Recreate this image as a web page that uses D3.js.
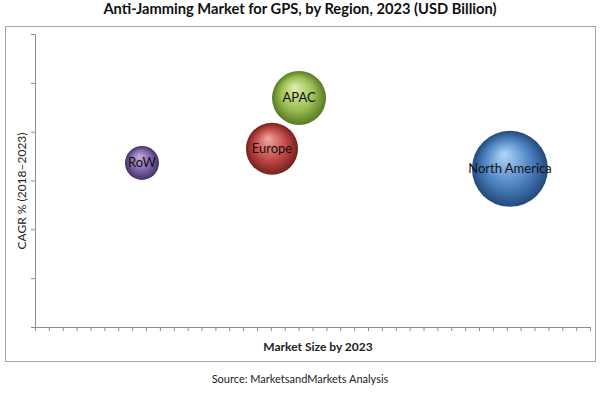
<!DOCTYPE html>
<html>
<head>
<meta charset="utf-8">
<script src="https://cdn.jsdelivr.net/npm/d3@7"></script>
<style>
  body { margin: 0; background: #fff; }
  svg { display: block; }
</style>
</head>
<body>
<script>
// data (arbitrary units, the original has no tick labels)
let regions = ["RoW", "Europe", "APAC", "North America"];
let marketSize = [7.71, 17.08, 19.03, 34.23];
let cagr = [3.36, 3.65, 4.69, 3.24];
let bubbleSize = [0.2, 0.47, 0.505, 1.0];
let baseColors = ["#8066a8", "#c24a46", "#9cbf55", "#4f85c4"];
let lightColors = ["#c2b0de", "#f0a8a4", "#e0f0b0", "#b3d6f8"];
let darkColors = ["#45306a", "#761f1d", "#587a22", "#22497a"];

let w = 600;
let h = 394;
let svg = d3.select("body").append("svg").attr("width", w).attr("height", h);

let x = d3.scaleLinear().domain([0, 40]).range([35, 590]);
let y = d3.scaleLinear().domain([0, 6]).range([327, 34]);
let r = d3.scaleSqrt().domain([0, 1]).range([0, 38]);

// outer frame
svg.append("rect")
	.attr("x", 5.5).attr("y", 26.5)
	.attr("width", 590).attr("height", 335)
	.attr("fill", "none")
	.attr("stroke", "#a6a6a6")
	.attr("stroke-width", 1);

// title
svg.append("text")
	.text("Anti-Jamming Market for GPS, by Region, 2023 (USD Billion)")
	.attr("x", 300).attr("y", 14)
	.attr("text-anchor", "middle")
	.attr("font-family", "Lato, sans-serif")
	.attr("font-weight", "bold")
	.attr("font-size", "14.7px")
	.attr("fill", "#111");

// axes
let xAxis = d3.axisBottom(x).ticks(40).tickSize(4).tickFormat("");
let yAxis = d3.axisLeft(y).ticks(6).tickSize(4).tickFormat("");

let gx = svg.append("g").attr("transform", "translate(0," + y(0) + ")").call(xAxis);
let gy = svg.append("g").attr("transform", "translate(" + x(0) + ",0)").call(yAxis);
[gx, gy].forEach(function(g) {
	g.select(".domain").attr("stroke", "#8c8c8c");
	g.selectAll(".tick line").attr("stroke", "#8c8c8c");
});

// axis titles
svg.append("text")
	.text("Market Size by 2023")
	.attr("x", 318).attr("y", 351)
	.attr("text-anchor", "middle")
	.attr("font-family", "Lato, sans-serif")
	.attr("font-weight", "bold")
	.attr("font-size", "12px")
	.attr("fill", "#222");

svg.append("text")
	.text("CAGR % (2018\u20132023)")
	.attr("transform", "translate(26,191) rotate(-90)")
	.attr("text-anchor", "middle")
	.attr("font-family", "Lato, sans-serif")
	.attr("font-size", "12px")
	.attr("fill", "#222");

svg.append("text")
	.text("Source: MarketsandMarkets Analysis")
	.attr("x", 300).attr("y", 383)
	.attr("text-anchor", "middle")
	.attr("font-family", "Lato, sans-serif")
	.attr("font-size", "11px")
	.attr("fill", "#222");

// sphere gradients
let defs = svg.append("defs");
regions.forEach(function(d, i) {
	let g = defs.append("radialGradient")
		.attr("id", "grad" + i)
		.attr("cx", "50%").attr("cy", "50%").attr("r", "50%")
		.attr("fx", "42%").attr("fy", "30%");
	g.append("stop").attr("offset", "0%").attr("stop-color", lightColors[i]);
	g.append("stop").attr("offset", "60%").attr("stop-color", baseColors[i]);
	g.append("stop").attr("offset", "100%").attr("stop-color", darkColors[i]);
});

let data = regions.map(function(d, i) {
	return { name: d, x: marketSize[i], y: cagr[i], s: bubbleSize[i], i: i };
});

svg.selectAll("circle.bubble")
	.data(data)
	.enter()
	.append("circle")
	.attr("class", "bubble")
	.attr("cx", function(d) { return x(d.x); })
	.attr("cy", function(d) { return y(d.y); })
	.attr("r", function(d) { return r(d.s); })
	.attr("fill", function(d) { return "url(#grad" + d.i + ")"; });

svg.selectAll("text.lbl")
	.data(data)
	.enter()
	.append("text")
	.attr("class", "lbl")
	.text(function(d) { return d.name; })
	.attr("x", function(d) { return x(d.x); })
	.attr("y", function(d) { return y(d.y) + 4.5; })
	.attr("text-anchor", "middle")
	.attr("font-family", "Lato, sans-serif")
	.attr("font-size", "13px")
	.attr("fill", "#111");
</script>
</body>
</html>
